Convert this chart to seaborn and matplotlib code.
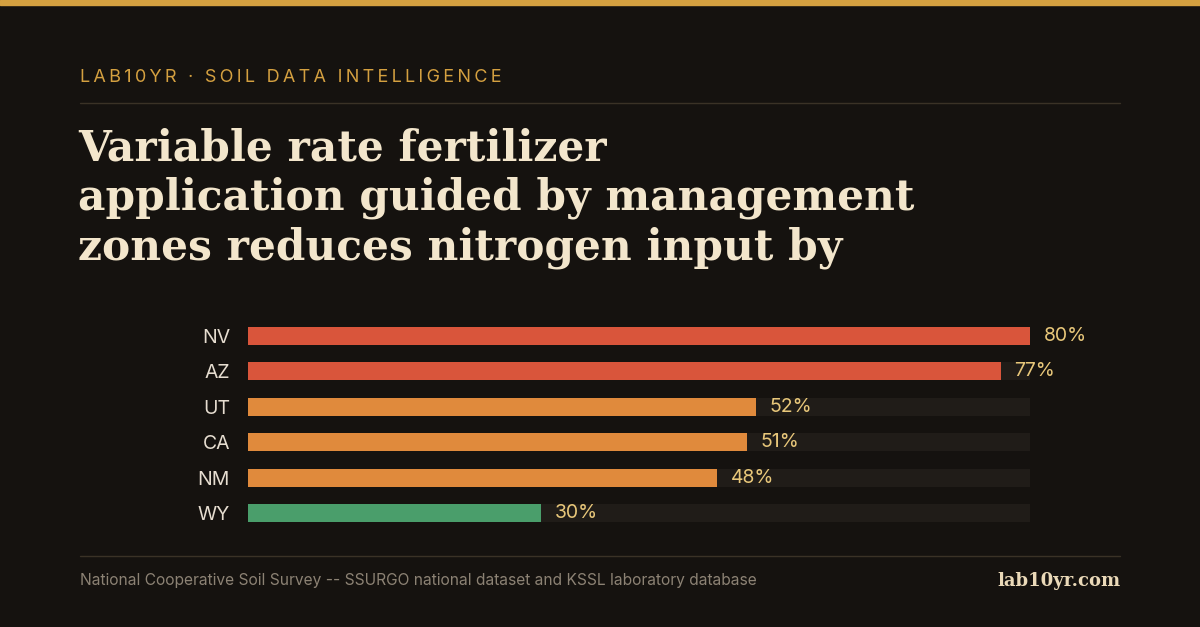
import matplotlib
matplotlib.use("Agg")
import matplotlib.pyplot as plt
import seaborn as sns
import pandas as pd

states = ["NV", "AZ", "UT", "CA", "NM", "WY"]
values = [80, 77, 52, 51, 48, 30]
colors = ["#D9553B", "#D9553B", "#E08A3C", "#E08A3C", "#E08A3C", "#4A9E6B"]
track_max = 80

df = pd.DataFrame({"state": states, "value": values})

sns.set_theme(style="white")
plt.rcParams["font.family"] = ["Inter", "DejaVu Sans"]

W, H = 1200, 627
fig = plt.figure(figsize=(12, 6.27), dpi=100, facecolor="#15120F")

def fx(x):
    return x / W

def fy(y):
    return 1 - y / H

# top gold strip
fig.patches.append(plt.Rectangle((0, fy(5)), 1, 5 / H, transform=fig.transFigure,
                                 color="#D4A040", zorder=5))

header = "LAB10YR · SOIL DATA INTELLIGENCE"
fig.text(fx(80), fy(77), "\u2009".join(header), color="#D4A040",
         fontsize=13, va="center", ha="left")
fig.add_artist(plt.Line2D([fx(80), fx(1120)], [fy(103), fy(103)], color="#3A3226", lw=1))

title = ["Variable rate fertilizer",
         "application guided by management",
         "zones reduces nitrogen input by"]
for i, line in enumerate(title):
    fig.text(fx(78), fy(148 + 50 * i), line, color="#F3E6CC", fontsize=30.4,
             fontweight="bold", family=["DejaVu Serif"], va="center", ha="left")

ax = fig.add_axes([fx(248), fy(531), fx(1030) - fx(248), (531 - 318) / H])
ax.set_facecolor("none")
sns.barplot(data=pd.DataFrame({"state": states, "value": [track_max] * len(states)}),
            x="value", y="state", color="#201C18", width=0.52, ax=ax, saturation=1,
            linewidth=0)
sns.barplot(data=df, x="value", y="state", hue="state", palette=colors, legend=False,
            width=0.52, ax=ax, saturation=1, linewidth=0)
ax.set_xlim(0, track_max)
ax.set_xlabel("")
ax.set_ylabel("")
ax.set_xticks([])
for s in ax.spines.values():
    s.set_visible(False)
ax.tick_params(axis="y", length=0, pad=13, labelsize=14, labelcolor="#E6DDD0")
for i, v in enumerate(values):
    ax.text(v + 1.4, i, f"{v}%", color="#E8C77A", fontsize=14, va="center", ha="left",
            clip_on=False)

fig.add_artist(plt.Line2D([fx(80), fx(1120)], [fy(556), fy(556)], color="#3A3226", lw=1))
fig.text(fx(80), fy(581), "National Cooperative Soil Survey -- SSURGO national dataset and KSSL laboratory database",
         color="#8C8274", fontsize=11.2, va="center", ha="left")
fig.text(fx(1120), fy(581), "lab10yr.com", color="#EAD9B8", fontsize=13, fontweight="bold",
         family=["DejaVu Serif"], va="center", ha="right")

fig.savefig("out.png", dpi=100, facecolor=fig.get_facecolor())
